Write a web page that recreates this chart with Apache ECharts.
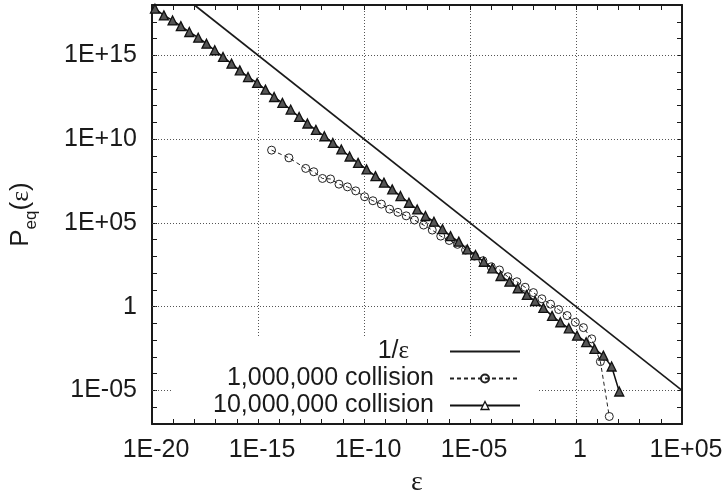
<!DOCTYPE html>
<html>
<head>
<meta charset="utf-8">
<script src="https://cdn.jsdelivr.net/npm/echarts@6/dist/echarts.min.js"></script>
<style>
html,body{margin:0;padding:0;background:#fff;}
#chart{width:725px;height:501px;}
</style>
</head>
<body>
<div id="chart"></div>
<script>
// ---- data (log10 of values, log-log plot) ----
// 1/epsilon reference line: epsilon end points
const invEps = [1e-18, 1e5];

// 1,000,000 collision (open circles, dashed line)
const c1Log10Eps = [-14.36, -13.54, -12.75, -12.37, -11.96, -11.58, -11.18, -10.78, -10.39, -9.97,
  -9.58, -9.18, -8.79, -8.40, -8.01, -7.62, -7.19, -6.78, -6.38, -5.98,
  -5.59, -5.21, -4.79, -4.39, -4.00, -3.61, -3.22, -2.79, -2.40, -2.01,
  -1.61, -1.20, -0.82, -0.42, -0.03, 0.35, 0.74, 1.15, 1.57];
const c1Log10P = [9.34, 8.88, 8.25, 8.05, 7.65, 7.62, 7.31, 7.15, 6.91, 6.56,
  6.32, 6.12, 5.82, 5.63, 5.42, 5.17, 4.87, 4.57, 4.21, 3.95,
  3.72, 3.38, 3.02, 2.74, 2.38, 2.19, 1.79, 1.49, 1.16, 0.84,
  0.47, 0.15, -0.17, -0.53, -0.93, -1.25, -1.92, -3.28, -6.55];

// 10,000,000 collision (triangles, solid line)
const c10Log10Eps = [-19.86, -19.44, -19.03, -18.64, -18.24, -17.82, -17.43, -17.04, -16.65, -16.25,
  -15.86, -15.47, -15.04, -14.65, -14.24, -13.85, -13.46, -13.06, -12.67, -12.27,
  -11.87, -11.47, -11.07, -10.68, -10.28, -9.88, -9.46, -9.06, -8.67, -8.28,
  -7.88, -7.49, -7.10, -6.70, -6.30, -5.92, -5.53, -5.13, -4.74, -4.35,
  -3.95, -3.56, -3.14, -2.75, -2.32, -1.93, -1.54, -1.13, -0.74, -0.34,
  0.05, 0.48, 0.87, 1.29, 1.68, 2.04];
const c10Log10P = [17.78, 17.38, 17.08, 16.74, 16.39, 16.05, 15.69, 15.30, 14.90, 14.50,
  14.10, 13.70, 13.35, 12.95, 12.51, 12.16, 11.76, 11.32, 10.93, 10.55,
  10.17, 9.77, 9.38, 8.96, 8.58, 8.19, 7.79, 7.40, 7.00, 6.60,
  6.20, 5.80, 5.41, 5.07, 4.63, 4.21, 3.88, 3.42, 3.08, 2.68,
  2.29, 1.83, 1.49, 1.10, 0.70, 0.34, -0.07, -0.55, -0.93, -1.29,
  -1.73, -2.12, -2.52, -2.92, -3.57, -5.06];

// axis decades (log10)
const xRange = [-20, 5];
const yRange = [-7, 18];
const yGridDecades = [-5, 0, 5, 10, 15];
const seriesNames = ['1/ε', '1,000,000 collision', '10,000,000 collision'];

// ---- chart ----
const SANS = "'Liberation Sans', Arial, Helvetica, sans-serif";
const SERIF = "'Liberation Serif', 'DejaVu Serif', serif";
const INK = '#1a1a1a';

function decadeLabel(v) {
  const n = Math.round(v);
  if (n === 0) return '1';
  const a = Math.abs(n);
  return '1E' + (n > 0 ? '+' : '-') + (a < 10 ? '0' + a : '' + a);
}
const zip = (xs, ys) => xs.map((x, i) => [x, ys[i]]);

const gridDot = { type: [1, 2], color: '#555', width: 1 };
const tickStyle = { color: INK, width: 1 };
const axisLineStyle = { color: INK, width: 2 };

const chart = echarts.init(document.getElementById('chart'), null, { renderer: 'canvas' });
chart.setOption({
  animation: false,
  backgroundColor: '#fff',
  grid: { left: 152, right: 43, top: 5, bottom: 77, outerBoundsMode: 'none', containLabel: false },
  xAxis: [
    {
      type: 'value', min: xRange[0], max: xRange[1], interval: 5, position: 'bottom',
      axisLine: { show: true, onZero: false, lineStyle: axisLineStyle },
      axisTick: { show: true, inside: true, length: 5, lineStyle: tickStyle },
      minorTick: { show: true, splitNumber: 5, length: 5, lineStyle: tickStyle },
      splitLine: { show: true, showMinLine: false, showMaxLine: false, lineStyle: gridDot },
      axisLabel: {
        formatter: decadeLabel, fontSize: 25, fontFamily: SANS, color: INK, margin: 14,
        padding: [0, 0, 0, 8]
      },
      name: 'ε', nameLocation: 'middle', nameGap: 45,
      nameTextStyle: { fontFamily: SERIF, fontSize: 28, color: INK }
    },
    {
      type: 'value', min: xRange[0], max: xRange[1], interval: 5, position: 'top',
      axisLine: { show: true, onZero: false, lineStyle: axisLineStyle },
      axisTick: { show: true, inside: true, length: 5, lineStyle: tickStyle },
      minorTick: { show: true, splitNumber: 5, length: 5, lineStyle: tickStyle },
      splitLine: { show: false },
      axisLabel: { show: false }
    }
  ],
  yAxis: [
    {
      type: 'value', min: yRange[0], max: yRange[1], interval: 1, position: 'left',
      axisLine: { show: true, onZero: false, lineStyle: axisLineStyle },
      axisTick: { show: true, inside: true, length: 5, lineStyle: tickStyle },
      splitLine: { show: false },
      axisLabel: {
        formatter: v => (Math.round(v) % 5 === 0 ? decadeLabel(v) : ''),
        fontSize: 25, fontFamily: SANS, color: INK, margin: 15
      },
      name: '{p|P}{s|eq}{p|(}{e|ε}{p|)}',
      nameLocation: 'middle', nameRotate: 90, nameGap: 112,
      nameTextStyle: {
        color: INK,
        rich: {
          p: { fontFamily: SANS, fontSize: 26, color: INK, lineHeight: 32, verticalAlign: 'top' },
          s: { fontFamily: SANS, fontSize: 17, color: INK, lineHeight: 32, verticalAlign: 'bottom' },
          e: { fontFamily: SERIF, fontSize: 26, color: INK, lineHeight: 32, verticalAlign: 'top' }
        }
      }
    },
    {
      type: 'value', min: yRange[0], max: yRange[1], interval: 1, position: 'right',
      axisLine: { show: true, onZero: false, lineStyle: axisLineStyle },
      axisTick: { show: true, inside: true, length: 5, lineStyle: tickStyle },
      splitLine: { show: false },
      axisLabel: { show: false }
    }
  ],
  legend: {
    data: [
      { name: seriesNames[0], itemStyle: { color: 'rgba(0,0,0,0)', borderWidth: 0, opacity: 0 },
        textStyle: { padding: [0, 36, 0, 0] } },
      { name: seriesNames[1] },
      { name: seriesNames[2], itemStyle: { color: '#fff', borderColor: '#111', borderWidth: 1.3 } }
    ],
    orient: 'vertical', align: 'right',
    right: 188, top: 337,
    itemWidth: 70, itemHeight: 10, itemGap: 2,
    padding: [2, 16, 0, 40],
    backgroundColor: '#fff',
    selectedMode: false,
    formatter: name => (name === '1/ε' ? '{a|1/}{e|ε}' : name),
    textStyle: {
      fontSize: 25, fontFamily: SANS, color: INK, padding: [0, 11, 0, 0],
      rich: {
        a: { fontSize: 25, fontFamily: SANS, color: INK },
        e: { fontSize: 25, fontFamily: SERIF, color: INK }
      }
    }
  },
  series: [
    {
      name: seriesNames[0], type: 'line', xAxisIndex: 0, yAxisIndex: 0,
      data: invEps.map(e => [Math.log10(e), Math.log10(1 / e)]),
      symbol: 'none', showSymbol: false, color: INK,
      lineStyle: { color: INK, width: 1.6 },
      silent: true,
      markLine: {
        silent: true, z: 1, symbol: ['none', 'none'], animation: false,
        label: { show: false },
        lineStyle: gridDot,
        emphasis: { disabled: true },
        data: yGridDecades.map(v => ({ yAxis: v }))
      }
    },
    {
      name: seriesNames[1], type: 'line', xAxisIndex: 0, yAxisIndex: 0,
      data: zip(c1Log10Eps, c1Log10P),
      color: '#222',
      symbol: 'circle', symbolSize: 8, showAllSymbol: true,
      itemStyle: { color: 'rgba(255,255,255,0)', borderColor: '#222', borderWidth: 1 },
      lineStyle: { color: '#222', width: 1, type: [4, 3] },
      silent: true
    },
    {
      name: seriesNames[2], type: 'line', xAxisIndex: 0, yAxisIndex: 0,
      data: zip(c10Log10Eps, c10Log10P),
      color: '#111',
      symbol: 'triangle', symbolSize: 9, showAllSymbol: true,
      itemStyle: { color: '#555', borderColor: '#111', borderWidth: 1.3 },
      lineStyle: { color: '#111', width: 1.5 },
      silent: true
    }
  ]
});
</script>
</body>
</html>
